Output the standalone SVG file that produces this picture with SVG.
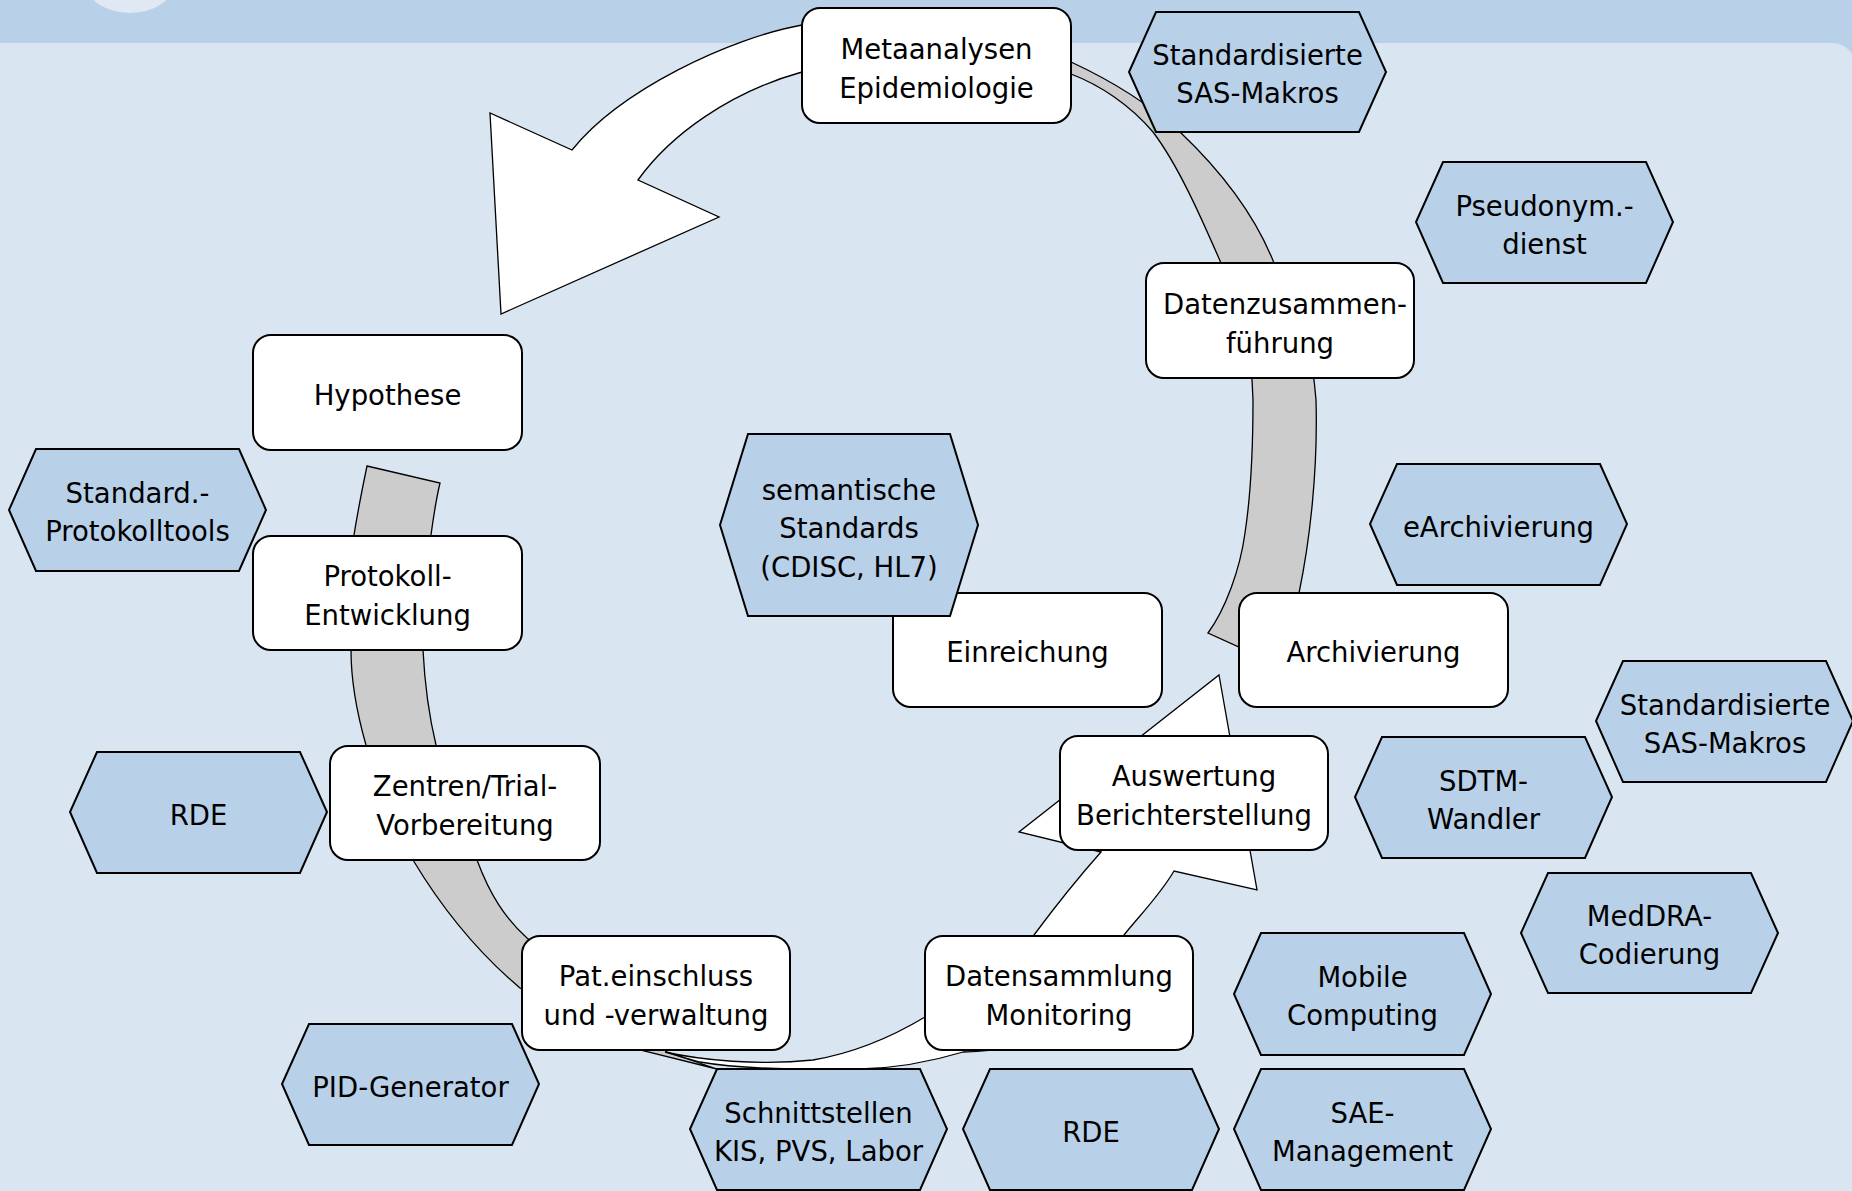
<svg xmlns="http://www.w3.org/2000/svg" width="1852" height="1191" viewBox="0 0 1852 1191">
<style>
.t{font-family:"DejaVu Sans","Liberation Sans",sans-serif;font-size:27.5px;fill:#000;text-anchor:middle}
.box{fill:#fff;stroke:#000;stroke-width:2}
.hex{fill:#b8d1e9;stroke:#000;stroke-width:2;stroke-linejoin:miter}
.ga{fill:#cccccc;stroke:#000;stroke-width:1.3;stroke-linejoin:miter}
.wa{fill:#fff;stroke:#000;stroke-width:1.3;stroke-linejoin:miter}
</style>
<rect x="0" y="0" width="1852" height="1191" fill="#b8d1e9"/>
<ellipse cx="130" cy="-15" rx="43" ry="28" fill="#dfe8f3"/>
<rect x="-40" y="43" width="1896" height="1200" rx="24" ry="24" fill="#d9e5f0"/>

<g id="connectors">
  <path id="arrowC" class="ga" d="M367,466 L440,483 C436,500 433,520 431,535 L423,650 C425,690 430,720 436,745 L477,860 C490,895 505,918 527,938 L667,1052 L717,1069 L640,1050 L520,988 C475,950 440,905 413,860 L366,745 C356,710 351,680 351,650 L354,535 C358,510 362,490 367,466 Z"/>
  <path id="arrowB" class="ga" d="M1071,62 C1110,80 1150,105 1180,132 C1220,170 1255,215 1274,263 C1295,305 1313,350 1316,400 C1318,470 1310,540 1299,593 L1300,640 L1239,647 L1208,633 C1225,610 1240,570 1245,533 C1250,500 1253,450 1253,400 C1252,350 1240,300 1221,263 C1200,215 1178,165 1153,132 C1130,105 1100,85 1071,74 Z"/>
  <path id="arrowA" class="wa" d="M802,25 C730,38 620,90 572,150 L490,113 L501,314 L719,217 L638,180 C670,135 730,92 802,72 Z"/>
  <path id="arrowD" class="wa" d="M1219,675 L1257,890 L1174,871 C1160,895 1140,915 1124,935 L1100,1000 C1060,1040 1000,1052 963,1052 C930,1062 900,1068 860,1069 C800,1070 740,1069 700,1062 L665,1052 C700,1060 760,1066 813,1060 C860,1052 900,1032 925,1017 L1000,960 L1034,935 C1060,900 1085,870 1101,852 L1019,832 Z"/>
</g>

<g id="hex-protokolltools"><polygon class="hex" points="36,449 239,449 266,510 239,571 36,571 9,510"/><text class="t" x="137.5" y="503">Standard.-</text><text class="t" x="137.5" y="541">Protokolltools</text></g>

<g id="node-metaanalysen"><rect class="box" x="802" y="8" width="269" height="115" rx="18"/><text class="t" x="936.5" y="58.5">Metaanalysen</text><text class="t" x="936.5" y="97.5">Epidemiologie</text></g>
<g id="node-hypothese"><rect class="box" x="253" y="335" width="269" height="115" rx="18"/><text class="t" x="387.5" y="404.5">Hypothese</text></g>
<g id="node-datenzusammenfuehrung"><rect class="box" x="1146" y="263" width="268" height="115" rx="18"/><text class="t" x="1285" y="313.5">Datenzusammen-</text><text class="t" x="1280" y="352.5">führung</text></g>
<g id="node-protokoll"><rect class="box" x="253" y="536" width="269" height="114" rx="18"/><text class="t" x="387.5" y="586">Protokoll-</text><text class="t" x="387.5" y="625">Entwicklung</text></g>
<g id="node-einreichung"><rect class="box" x="893" y="593" width="269" height="114" rx="18"/><text class="t" x="1027.5" y="662">Einreichung</text></g>
<g id="node-archivierung"><rect class="box" x="1239" y="593" width="269" height="114" rx="18"/><text class="t" x="1373.5" y="662">Archivierung</text></g>
<g id="node-zentren"><rect class="box" x="330" y="746" width="270" height="114" rx="18"/><text class="t" x="465" y="796">Zentren/Trial-</text><text class="t" x="465" y="835">Vorbereitung</text></g>
<g id="node-auswertung"><rect class="box" x="1060" y="736" width="268" height="114" rx="18"/><text class="t" x="1194" y="786">Auswertung</text><text class="t" x="1194" y="825">Berichterstellung</text></g>
<g id="node-pateinschluss"><rect class="box" x="522" y="936" width="268" height="114" rx="18"/><text class="t" x="656" y="986">Pat.einschluss</text><text class="t" x="656" y="1025">und -verwaltung</text></g>
<g id="node-datensammlung"><rect class="box" x="925" y="936" width="268" height="114" rx="18"/><text class="t" x="1059" y="986">Datensammlung</text><text class="t" x="1059" y="1025">Monitoring</text></g>

<g id="hex-sas1"><polygon class="hex" points="1156,12 1359,12 1386,72 1359,132 1156,132 1129,72"/><text class="t" x="1257.5" y="65">Standardisierte</text><text class="t" x="1257.5" y="103">SAS-Makros</text></g>
<g id="hex-pseudonym"><polygon class="hex" points="1443,162 1646,162 1673,222 1646,283 1443,283 1416,222"/><text class="t" x="1544.5" y="215.5">Pseudonym.-</text><text class="t" x="1544.5" y="253.5">dienst</text></g>
<g id="hex-semantisch"><polygon class="hex" points="748,434 950,434 978,525 950,616 748,616 720,525"/><text class="t" x="849" y="500">semantische</text><text class="t" x="849" y="538">Standards</text><text class="t" x="849" y="577">(CDISC, HL7)</text></g>
<g id="hex-earchivierung"><polygon class="hex" points="1397,464 1600,464 1627,524 1600,585 1397,585 1370,524"/><text class="t" x="1498.5" y="537">eArchivierung</text></g>
<g id="hex-sas2"><polygon class="hex" points="1623,661 1826,661 1853,721 1826,782 1623,782 1596,721"/><text class="t" x="1725" y="714.5">Standardisierte</text><text class="t" x="1725" y="752.5">SAS-Makros</text></g>
<g id="hex-sdtm"><polygon class="hex" points="1382,737 1585,737 1612,797 1585,858 1382,858 1355,797"/><text class="t" x="1483.5" y="790.5">SDTM-</text><text class="t" x="1483.5" y="828.5">Wandler</text></g>
<g id="hex-meddra"><polygon class="hex" points="1548,873 1751,873 1778,933 1751,993 1548,993 1521,933"/><text class="t" x="1649.5" y="926">MedDRA-</text><text class="t" x="1649.5" y="964">Codierung</text></g>
<g id="hex-mobile"><polygon class="hex" points="1261,933 1464,933 1491,994 1464,1055 1261,1055 1234,994"/><text class="t" x="1362.5" y="987">Mobile</text><text class="t" x="1362.5" y="1025">Computing</text></g>
<g id="hex-sae"><polygon class="hex" points="1261,1069 1464,1069 1491,1129 1464,1190 1261,1190 1234,1129"/><text class="t" x="1362.5" y="1122.5">SAE-</text><text class="t" x="1362.5" y="1160.5">Management</text></g>
<g id="hex-rde2"><polygon class="hex" points="990,1069 1192,1069 1219,1129 1192,1190 990,1190 963,1129"/><text class="t" x="1091" y="1141.5">RDE</text></g>
<g id="hex-schnittstellen"><polygon class="hex" points="717,1069 920,1069 947,1129 920,1190 717,1190 690,1129"/><text class="t" x="818.5" y="1122.5">Schnittstellen</text><text class="t" x="818.5" y="1160.5">KIS, PVS, Labor</text></g>
<g id="hex-pid"><polygon class="hex" points="309,1024 512,1024 539,1084 512,1145 309,1145 282,1084"/><text class="t" x="410.5" y="1096.5">PID-Generator</text></g>
<g id="hex-rde1"><polygon class="hex" points="97,752 300,752 327,812 300,873 97,873 70,812"/><text class="t" x="198.5" y="824.5">RDE</text></g>
</svg>
